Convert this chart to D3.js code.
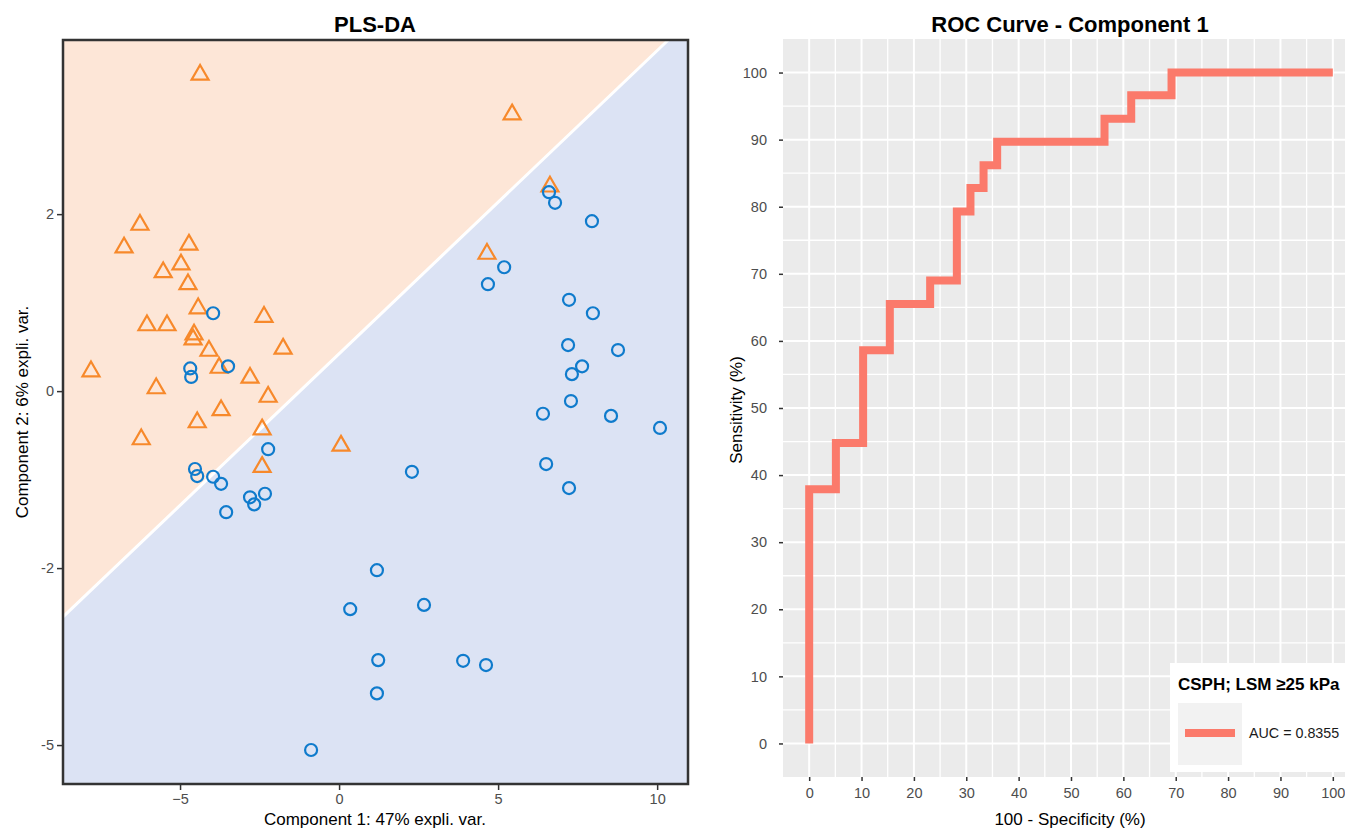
<!DOCTYPE html>
<html>
<head>
<meta charset="utf-8">
<script src="https://cdn.jsdelivr.net/npm/d3@7"></script>
<style>
  body { margin: 0; background: #fff; }
  svg text { font-family: "Liberation Sans", Arial, sans-serif; }
</style>
</head>
<body>
<div id="chart"></div>
<script>
// PLS-DA scores: group 1 (triangles) and group 2 (circles), comp1 / comp2
const triX = [-4.37, 5.44, 6.63, -6.26, -6.76, -4.72, -4.97, -5.53, -4.75, 4.65, -4.43, -2.36, -6.04, -5.41, -4.56,
    -4.59, -1.76, -4.09, -7.80, -3.77, -2.80, -5.75, -2.23, -3.71, -4.46, -2.42, -6.22, 0.06, -2.42];
const triY = [4.49, 3.93, 2.91, 2.37, 2.05, 2.09, 1.81, 1.70, 1.53, 1.96, 1.19, 1.07, 0.95, 0.95, 0.82,
    0.75, 0.62, 0.59, 0.30, 0.35, 0.21, 0.06, -0.06, -0.25, -0.42, -0.52, -0.66, -0.75, -1.05];
const circX = [-3.96, -4.68, -4.65, -3.49, -4.53, -4.46, -3.96, -3.71, -2.23, -2.80, -2.67, -2.33, -3.55, 2.29,
    6.60, 6.79, 7.95, 5.19, 4.68, 7.23, 7.98, 7.20, 8.77, 7.64, 7.32, 7.29, 6.41, 8.55, 10.09, 6.51, 7.23,
    1.19, 0.35, 2.67, 1.23, 3.90, 4.62, 1.19, -0.88];
const circY = [1.10, 0.32, 0.20, 0.35, -1.10, -1.20, -1.21, -1.31, -0.82, -1.50, -1.60, -1.45, -1.71, -1.14,
    2.81, 2.66, 2.40, 1.75, 1.51, 1.29, 1.10, 0.65, 0.58, 0.35, 0.24, -0.14, -0.32, -0.35, -0.52, -1.03, -1.37,
    -2.53, -3.08, -3.02, -3.80, -3.81, -3.87, -4.27, -5.07];
// decision boundary (two ends, data units)
const boundaryX = [-8.68, 10.35];
const boundaryY = [-3.19, 4.96];

const plsXTicks = [-5, 0, 5, 10];
const plsYTicks = [2.5, 0, -2.5, -5];
const plsYTickLabels = ['2', '0', '-2', '-5'];

// ROC corners (100 - specificity, sensitivity), stepped
const rocFpr = [0, 0, 5.1, 10.3, 15.4, 23.1, 28.2, 30.8, 33.3, 35.9, 56.4, 61.5, 69.2, 100];
const rocSens = [0, 37.9, 44.8, 58.6, 65.5, 69.0, 79.3, 82.8, 86.2, 89.7, 93.1, 96.6, 100, 100];
const rocTicks = [0, 10, 20, 30, 40, 50, 60, 70, 80, 90, 100];
const rocMinor = [5, 15, 25, 35, 45, 55, 65, 75, 85, 95];
const legendTitle = 'CSPH; LSM \u226525 kPa';
const aucLabel = 'AUC = 0.8355';

const W = 1345, H = 830;
const orange = '#f7892b', blue = '#0f7bcc', rocColor = '#fb7a6b';

var svg = d3.select('#chart').append('svg')
    .attr('width', W)
    .attr('height', H);

function drawPls(){
    var g = svg.append('g').attr('class', 'plsda');
    var x = d3.scaleLinear().domain([-8.68, 10.97]).range([63, 688]);
    var y = d3.scaleLinear().domain([-5.55, 4.96]).range([784, 40]);
    var [x0, x1] = x.domain(), [y0, y1] = y.domain();

    // background prediction areas
    var upper = [[x0, boundaryY[0]], [boundaryX[1], y1], [x0, y1]];
    var lower = [[x0, y0], [x0, boundaryY[0]], [boundaryX[1], y1], [x1, y1], [x1, y0]];
    var area = d3.line().x(d => x(d[0])).y(d => y(d[1]));
    g.append('path').attr('d', area(lower) + 'Z').attr('fill', '#dce3f4');
    g.append('path').attr('d', area(upper) + 'Z').attr('fill', '#fde6d7');
    g.append('path')
        .attr('d', area([[boundaryX[0], boundaryY[0]], [boundaryX[1], boundaryY[1]]]))
        .attr('stroke', '#fff')
        .attr('stroke-width', 3)
        .attr('fill', 'none');

    var tri = d3.symbol().type(d3.symbolTriangle).size(125);
    g.selectAll('path.tri')
        .data(triX.map((v, i) => [v, triY[i]]))
        .enter().append('path')
        .attr('class', 'tri')
        .attr('d', tri)
        .attr('transform', d => 'translate(' + x(d[0]) + ',' + (y(d[1]) + 1.5) + ')')
        .attr('fill', 'none')
        .attr('stroke', orange)
        .attr('stroke-width', 2.2);

    g.selectAll('circle.pt')
        .data(circX.map((v, i) => [v, circY[i]]))
        .enter().append('circle')
        .attr('class', 'pt')
        .attr('cx', d => x(d[0]))
        .attr('cy', d => y(d[1]))
        .attr('r', 6)
        .attr('fill', 'none')
        .attr('stroke', blue)
        .attr('stroke-width', 2.2);

    g.append('rect')
        .attr('x', 63).attr('y', 40)
        .attr('width', 625).attr('height', 744)
        .attr('fill', 'none')
        .attr('stroke', '#333')
        .attr('stroke-width', 2.5);

    var xAxis = d3.axisBottom(x).tickValues(plsXTicks).tickSize(5).tickPadding(4).tickFormat(d3.format('d'));
    var yAxis = d3.axisLeft(y).tickValues(plsYTicks).tickSize(5).tickPadding(3)
        .tickFormat((d, i) => plsYTickLabels[i]);
    g.append('g').attr('class', 'axis').attr('transform', 'translate(0,785)').call(xAxis);
    g.append('g').attr('class', 'axis').attr('transform', 'translate(62,0)').call(yAxis);

    g.append('text')
        .attr('x', 375).attr('y', 32)
        .attr('text-anchor', 'middle')
        .attr('font-size', 22).attr('font-weight', 'bold')
        .text('PLS-DA');
    g.append('text')
        .attr('x', 375).attr('y', 825)
        .attr('text-anchor', 'middle')
        .attr('font-size', 17)
        .text('Component 1: 47% expli. var.');
    g.append('text')
        .attr('transform', 'translate(28,412)rotate(-90)')
        .attr('text-anchor', 'middle')
        .attr('font-size', 17)
        .text('Component 2: 6% expli. var.');
}

function drawRoc(){
    var g = svg.append('g').attr('class', 'roc');
    var x = d3.scaleLinear().domain([-5, 105]).range([783, 1359]);
    var y = d3.scaleLinear().domain([-5, 105]).range([777, 39]);

    g.append('rect')
        .attr('x', 783).attr('y', 39)
        .attr('width', 576).attr('height', 738)
        .attr('fill', '#ebebeb');

    g.selectAll('line.minorx').data(rocMinor).enter().append('line')
        .attr('x1', d => x(d)).attr('x2', d => x(d)).attr('y1', 39).attr('y2', 777)
        .attr('stroke', '#fff').attr('stroke-width', 1.3);
    g.selectAll('line.minory').data(rocMinor).enter().append('line')
        .attr('y1', d => y(d)).attr('y2', d => y(d)).attr('x1', 783).attr('x2', 1359)
        .attr('stroke', '#fff').attr('stroke-width', 1.3);
    g.selectAll('line.majorx').data(rocTicks).enter().append('line')
        .attr('x1', d => x(d)).attr('x2', d => x(d)).attr('y1', 39).attr('y2', 777)
        .attr('stroke', '#fff').attr('stroke-width', 2);
    g.selectAll('line.majory').data(rocTicks).enter().append('line')
        .attr('y1', d => y(d)).attr('y2', d => y(d)).attr('x1', 783).attr('x2', 1359)
        .attr('stroke', '#fff').attr('stroke-width', 2);

    var line = d3.line()
        .x((d, i) => x(rocFpr[i]))
        .y(d => y(d))
        .curve(d3.curveStepAfter);
    g.append('path')
        .datum(rocSens)
        .attr('d', line)
        .attr('fill', 'none')
        .attr('stroke', rocColor)
        .attr('stroke-width', 8)
        .attr('stroke-linejoin', 'miter');

    var xAxis = d3.axisBottom(x).tickValues(rocTicks).tickSize(4).tickPadding(7);
    var yAxis = d3.axisLeft(y).tickValues(rocTicks).tickSize(4).tickPadding(12);
    g.append('g').attr('class', 'axis').attr('transform', 'translate(0,777)').call(xAxis);
    g.append('g').attr('class', 'axis').attr('transform', 'translate(783,0)').call(yAxis);

    // legend
    var lg = g.append('g').attr('class', 'legend');
    lg.append('rect').attr('x', 1170).attr('y', 663).attr('width', 200).attr('height', 109).attr('fill', '#fff');
    lg.append('text').attr('x', 1178).attr('y', 690)
        .attr('font-size', 17).attr('font-weight', 'bold').text(legendTitle);
    lg.append('rect').attr('x', 1178).attr('y', 703).attr('width', 64).attr('height', 62).attr('fill', '#f2f2f2');
    lg.append('line').attr('x1', 1185).attr('x2', 1235).attr('y1', 733).attr('y2', 733)
        .attr('stroke', rocColor).attr('stroke-width', 8);
    lg.append('text').attr('x', 1249).attr('y', 738)
        .attr('font-size', 14.3).attr('fill', '#1a1a1a').text(aucLabel);

    g.append('text')
        .attr('x', 1070).attr('y', 32)
        .attr('text-anchor', 'middle')
        .attr('font-size', 22).attr('font-weight', 'bold')
        .text('ROC Curve - Component 1');
    g.append('text')
        .attr('x', 1070).attr('y', 825)
        .attr('text-anchor', 'middle')
        .attr('font-size', 17)
        .text('100 - Specificity (%)');
    g.append('text')
        .attr('transform', 'translate(742,410)rotate(-90)')
        .attr('text-anchor', 'middle')
        .attr('font-size', 17)
        .text('Sensitivity (%)');
}

drawPls();
drawRoc();

svg.selectAll('.axis .domain').remove();
svg.selectAll('.axis line').attr('stroke', '#333').attr('stroke-width', 1.5);
svg.selectAll('.axis text')
    .attr('font-size', 14.5)
    .attr('fill', '#4d4d4d')
    .style('font-family', '"Liberation Sans", Arial, sans-serif');
</script>
</body>
</html>
